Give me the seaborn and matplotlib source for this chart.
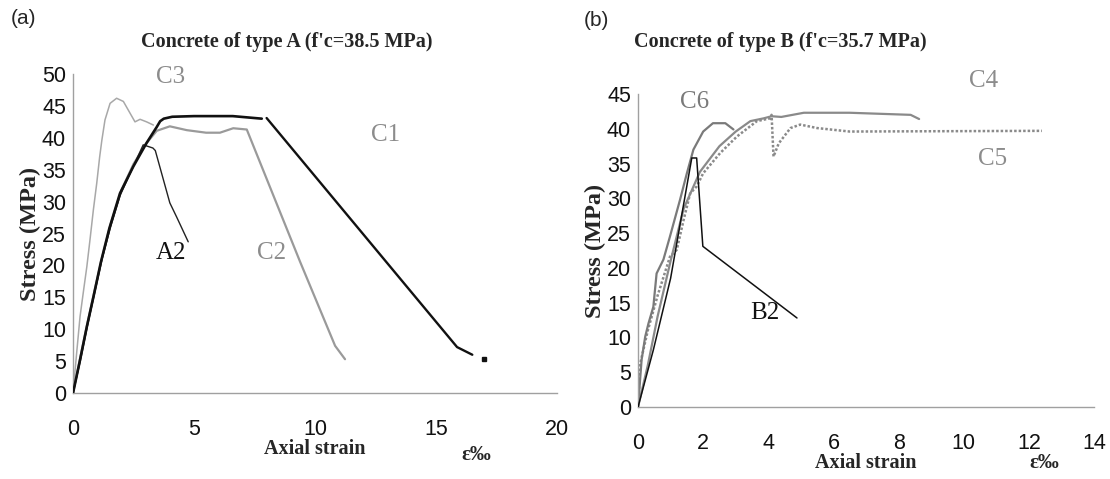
import numpy as np
import pandas as pd
import matplotlib
matplotlib.use("Agg")
import matplotlib.pyplot as plt
import seaborn as sns

# ---------------- data: panel (a) concrete type A ----------------
c1_x = [0, 0.29, 0.57, 0.85, 1.15, 1.5, 1.94, 2.49, 3.04, 3.46, 3.6, 3.75, 4.1, 5.0, 6.6, 7.8]
c1_y = [0, 5.2, 10.4, 15.2, 20.5, 25.8, 31.3, 35.5, 39.2, 41.7, 42.6, 43.0, 43.3, 43.4, 43.4, 43.0]
c1_tail_x = [8.0, 15.87, 16.5]
c1_tail_y = [43.1, 7.2, 6.0]
c1_dot_x = [17.0]
c1_dot_y = [5.3]

a2_x = [0, 0.3, 0.6, 0.9, 1.2, 1.55, 1.95, 2.5, 2.9, 3.3, 3.4, 3.7, 4.0, 4.28, 4.76]
a2_y = [0, 5.0, 10.6, 15.8, 21.0, 26.0, 31.0, 35.6, 38.9, 38.4, 38.0, 33.9, 29.8, 27.6, 23.7]

c2_x = [0, 0.3, 0.6, 0.9, 1.2, 1.55, 2.0, 2.5, 3.0, 3.46, 4.0, 4.7, 5.5, 6.07, 6.62, 7.18, 9.38, 10.83, 11.24]
c2_y = [0, 5.6, 11.0, 16.2, 21.2, 26.4, 31.8, 35.9, 39.0, 41.1, 41.8, 41.2, 40.8, 40.8, 41.5, 41.3, 20.6, 7.4, 5.3]

c3_x = [0, 0.15, 0.29, 0.45, 0.57, 0.70, 0.84, 0.98, 1.1, 1.19, 1.32, 1.53, 1.8, 2.08, 2.35, 2.56, 2.77, 3.04, 3.32]
c3_y = [0, 6.3, 12.0, 16.5, 19.8, 24.0, 28.7, 32.9, 37.0, 39.6, 42.8, 45.4, 46.2, 45.7, 43.9, 42.5, 42.9, 42.5, 42.0]

# ---------------- data: panel (b) concrete type B ----------------
c6_x = [0, 0.11, 0.22, 0.32, 0.47, 0.57, 0.78, 0.98, 1.29, 1.5, 1.7, 2.0, 2.3, 2.68, 2.93]
c6_y = [0, 6.8, 10.1, 12.0, 14.4, 19.2, 21.2, 24.5, 29.8, 33.6, 37.0, 39.6, 40.8, 40.8, 39.9]

c4_x = [0, 0.3, 0.6, 1.0, 1.4, 1.9, 2.5, 3.0, 3.45, 3.86, 4.1, 4.4, 5.09, 6.5, 8.37, 8.63]
c4_y = [0, 6.0, 13.0, 21.0, 28.5, 33.8, 37.5, 39.6, 41.1, 41.5, 41.8, 41.7, 42.3, 42.3, 42.0, 41.4]

c5_x = [0, 0.07, 0.3, 0.6, 0.98, 1.19, 1.4, 1.6, 1.8, 2.0, 2.52, 3.04, 3.65, 4.06, 4.1, 4.16, 4.32, 4.68, 4.98, 5.5, 6.5, 12.4]
c5_y = [0, 6.3, 11.0, 16.0, 21.6, 22.6, 26.9, 30.7, 31.7, 33.6, 36.5, 38.9, 41.1, 41.5, 42.0, 36.0, 37.9, 40.1, 40.6, 40.1, 39.6, 39.7]

b2_x = [0, 0.47, 1.0, 1.65, 1.8, 1.99, 4.88]
b2_y = [0, 8.2, 18.5, 35.8, 35.8, 23.1, 12.8]

labels_a = ["C3", "A2", "C2", "C1"]
labels_a_pos = [(4.05, 49.5), (4.05, 21.9), (8.2, 21.9), (12.9, 40.4)]
labels_a_col = ["#8c8c8c", "#111111", "#8c8c8c", "#8c8c8c"]
labels_b = ["C6", "C4", "C5", "B2"]
labels_b_pos = [(1.75, 43.9), (10.6, 46.8), (10.9, 35.7), (3.9, 13.5)]
labels_b_col = ["#7a7a7a", "#8c8c8c", "#8c8c8c", "#111111"]

xticks_a = [0, 5, 10, 15, 20]
yticks_a = list(range(0, 51, 5))
xticks_b = list(range(0, 15, 2))
yticks_b = list(range(0, 46, 5))

sns.set_theme(style="white")
plt.rcParams['font.family'] = ['Liberation Sans', 'DejaVu Sans']

fig = plt.figure(figsize=(11.10, 4.79), dpi=100)
axA = fig.add_axes([0.0658, 0.1795, 0.436, 0.666])
axB = fig.add_axes([0.5748, 0.1503, 0.4108, 0.6535])

serif = ['Liberation Serif', 'DejaVu Serif']


def line(ax, x, y, color, lw, ls="-", zorder=2):
    df = pd.DataFrame({"x": x, "y": y})
    sns.lineplot(data=df, x="x", y="y", ax=ax, color=color, lw=lw, ls=ls,
                 sort=False, estimator=None, zorder=zorder)


# panel A
line(axA, c3_x, c3_y, "#a8a8a8", 1.1)
line(axA, c2_x, c2_y, "#9a9a9a", 1.6)
line(axA, a2_x, a2_y, "#222222", 1.0)
line(axA, c1_x, c1_y, "#111111", 1.9, zorder=3)
line(axA, c1_tail_x, c1_tail_y, "#111111", 1.7, zorder=3)
axA.plot(c1_dot_x, c1_dot_y, marker="s", ms=2.5, color="#111111", ls="none")

# panel B
line(axB, c5_x, c5_y, "#8a8a8a", 1.8, ls=(0, (1, 0.8)))
line(axB, c4_x, c4_y, "#8a8a8a", 1.6)
line(axB, c6_x, c6_y, "#7a7a7a", 1.6)
line(axB, b2_x, b2_y, "#111111", 1.1, zorder=3)

for ax, xt, yt, xl, yl in [(axA, xticks_a, yticks_a, (0, 20), (0, 50)),
                          (axB, xticks_b, yticks_b, (0, 14), (0, 45))]:
    ax.set_xlim(*xl)
    ax.set_ylim(*yl)
    ax.set_xticks(xt)
    ax.set_yticks(yt)
    for s in ["top", "right"]:
        ax.spines[s].set_visible(False)
    for s in ["left", "bottom"]:
        ax.spines[s].set_color("#a0a0a0")
        ax.spines[s].set_linewidth(1.0)
    ax.tick_params(axis="x", direction="inout", length=6, width=1, color="#a0a0a0",
                   labelsize=15.5, pad=16, labelcolor="#111111")
    ax.tick_params(axis="y", direction="out", length=4, width=1, color="#a0a0a0",
                   labelsize=15.5, pad=1, labelcolor="#111111")
    ax.set_xlabel("Axial strain", family=serif, fontweight="bold", fontsize=14.5, labelpad=-1)
    ax.set_ylabel("Stress (MPa)", family=serif, fontweight="bold", fontsize=17.5, labelpad=1)
    ax.grid(False)

for lab, (x, y), c in zip(labels_a, labels_a_pos, labels_a_col):
    axA.text(x, y, lab, family=serif, fontsize=18, color=c, ha="center", va="center", clip_on=False)
for lab, (x, y), c in zip(labels_b, labels_b_pos, labels_b_col):
    axB.text(x, y, lab, family=serif, fontsize=18, color=c, ha="center", va="center", clip_on=False)

fig.text(287 / 1110, 1 - 42 / 479, "Concrete of type A (f'c=38.5 MPa)", family=serif,
         fontweight="bold", fontsize=14.5, ha="center", va="center")
fig.text(780 / 1110, 1 - 42 / 479, "Concrete of type B (f'c=35.7 MPa)", family=serif,
         fontweight="bold", fontsize=14.5, ha="center", va="center")
fig.text(24 / 1110, 1 - 18 / 479, "(a)", fontsize=15, ha="center", va="center")
fig.text(596 / 1110, 1 - 20 / 479, "(b)", fontsize=15, ha="center", va="center")
fig.text(476 / 1110, 1 - 455 / 479, "ε‰", family=serif, fontweight="bold", fontsize=15,
         ha="center", va="center")
fig.text(1044 / 1110, 1 - 463 / 479, "ε‰", family=serif, fontweight="bold", fontsize=15,
         ha="center", va="center")

fig.savefig("out.png", dpi=100)
